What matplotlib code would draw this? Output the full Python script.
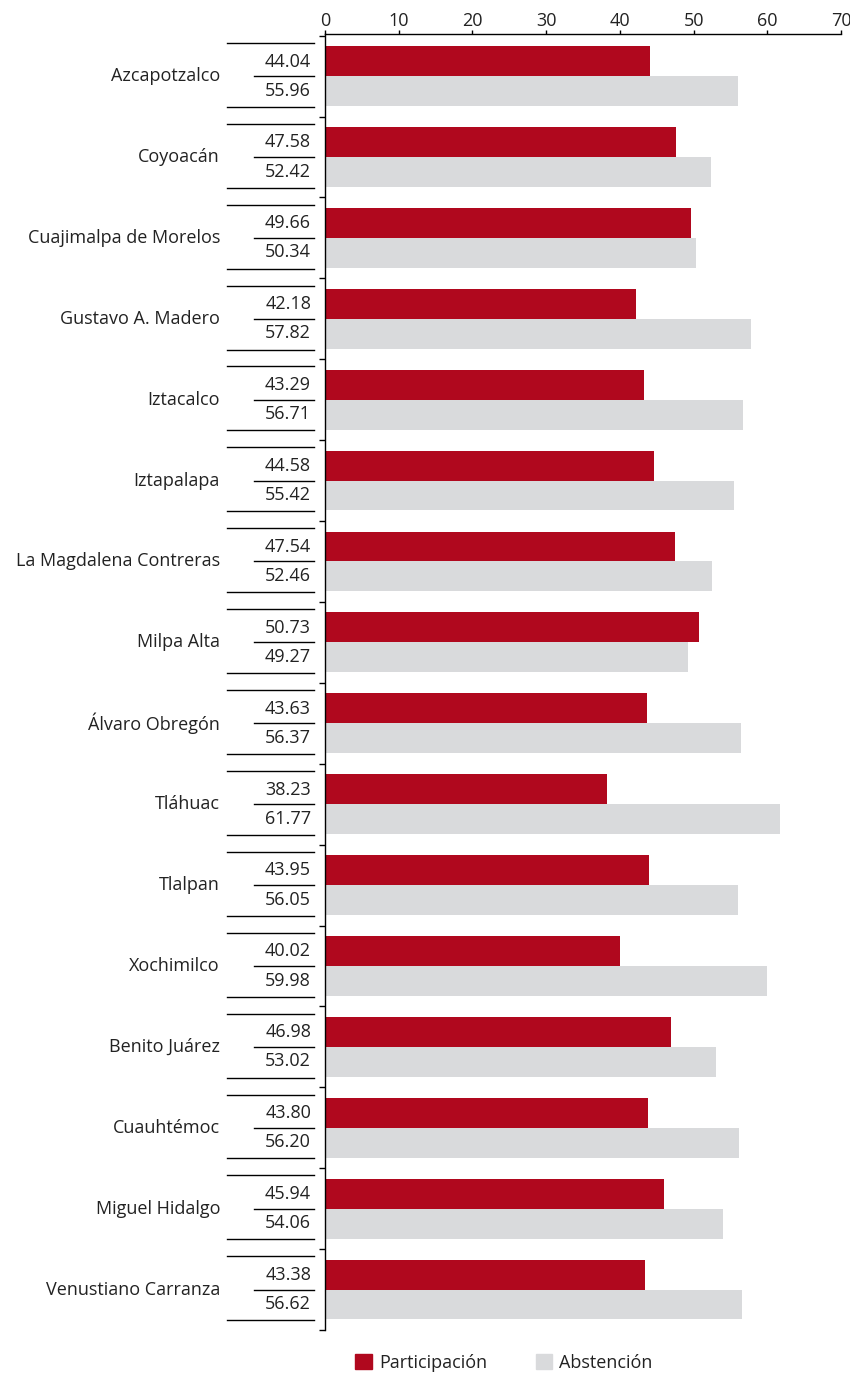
import matplotlib
matplotlib.use("Agg")
import matplotlib.pyplot as plt
import matplotlib.transforms as mtransforms
from matplotlib.patches import Patch

categories = ["Azcapotzalco", "Coyoacán", "Cuajimalpa de Morelos", "Gustavo A. Madero",
              "Iztacalco", "Iztapalapa", "La Magdalena Contreras", "Milpa Alta",
              "Álvaro Obregón", "Tláhuac", "Tlalpan", "Xochimilco", "Benito Juárez",
              "Cuauhtémoc", "Miguel Hidalgo", "Venustiano Carranza"]
participacion = [44.04, 47.58, 49.66, 42.18, 43.29, 44.58, 47.54, 50.73,
                 43.63, 38.23, 43.95, 40.02, 46.98, 43.80, 45.94, 43.38]
abstencion = [55.96, 52.42, 50.34, 57.82, 56.71, 55.42, 52.46, 49.27,
              56.37, 61.77, 56.05, 59.98, 53.02, 56.20, 54.06, 56.62]
xticks = [0, 10, 20, 30, 40, 50, 60, 70]

plt.rcParams['font.family'] = ['Open Sans', 'DejaVu Sans']
RED = "#B0081E"
GREY = "#D9DADC"
FS = 13
TXT = "#222222"

W, H = 850, 1376
fig = plt.figure(figsize=(W / 100, H / 100), dpi=100)
ax = fig.add_axes([325 / W, 1 - 1330 / H, (841 - 325) / W, (1330 - 34) / H])

n = len(categories)
pos = list(range(n))
bh = 0.37
ax.barh([p - bh / 2 for p in pos], participacion, height=bh, color=RED, label="Participación")
ax.barh([p + bh / 2 for p in pos], abstencion, height=bh, color=GREY, label="Abstención")

ax.set_xlim(0, 70)
ax.set_ylim(n - 0.52, -0.52)
ax.xaxis.tick_top()
ax.set_xticks(xticks)
ax.tick_params(axis='x', direction='out', length=3, width=1, pad=0, labelsize=FS, labelcolor=TXT)
ax.set_yticks([p + 0.5 for p in range(-1, n)])
ax.set_yticklabels([])
ax.tick_params(axis='y', direction='out', length=4, width=1)
for s in ['right', 'bottom']:
    ax.spines[s].set_visible(False)
for s in ['left', 'top']:
    ax.spines[s].set_linewidth(1)

# table-like labels in the left margin
trans = mtransforms.blended_transform_factory(fig.transFigure, ax.transData)
for i, (c, p, a) in enumerate(zip(categories, participacion, abstencion)):
    ax.plot([227 / W, 314 / W], [i - 0.41, i - 0.41], transform=trans, color='black', lw=1, clip_on=False)
    ax.plot([254 / W, 314 / W], [i, i], transform=trans, color='black', lw=1, clip_on=False)
    ax.plot([227 / W, 314 / W], [i + 0.38, i + 0.38], transform=trans, color='black', lw=1, clip_on=False)
    ax.text(311 / W, i - 0.18, f"{p:.2f}", transform=trans, ha='right', va='center', fontsize=FS, color=TXT)
    ax.text(311 / W, i + 0.18, f"{a:.2f}", transform=trans, ha='right', va='center', fontsize=FS, color=TXT)
    ax.text(220 / W, i, c, transform=trans, ha='right', va='center', fontsize=FS, color=TXT)

handles = [Patch(color=RED), Patch(color=GREY)]
fig.legend(handles, ["Participación", "Abstención"], loc='center', bbox_to_anchor=(504 / W, 1 - 1363 / H),
           ncol=2, frameon=False, fontsize=FS, handlelength=0.9, handleheight=0.9,
           handletextpad=0.4, columnspacing=2.7, labelcolor=TXT)

fig.savefig("out.png", dpi=100)
